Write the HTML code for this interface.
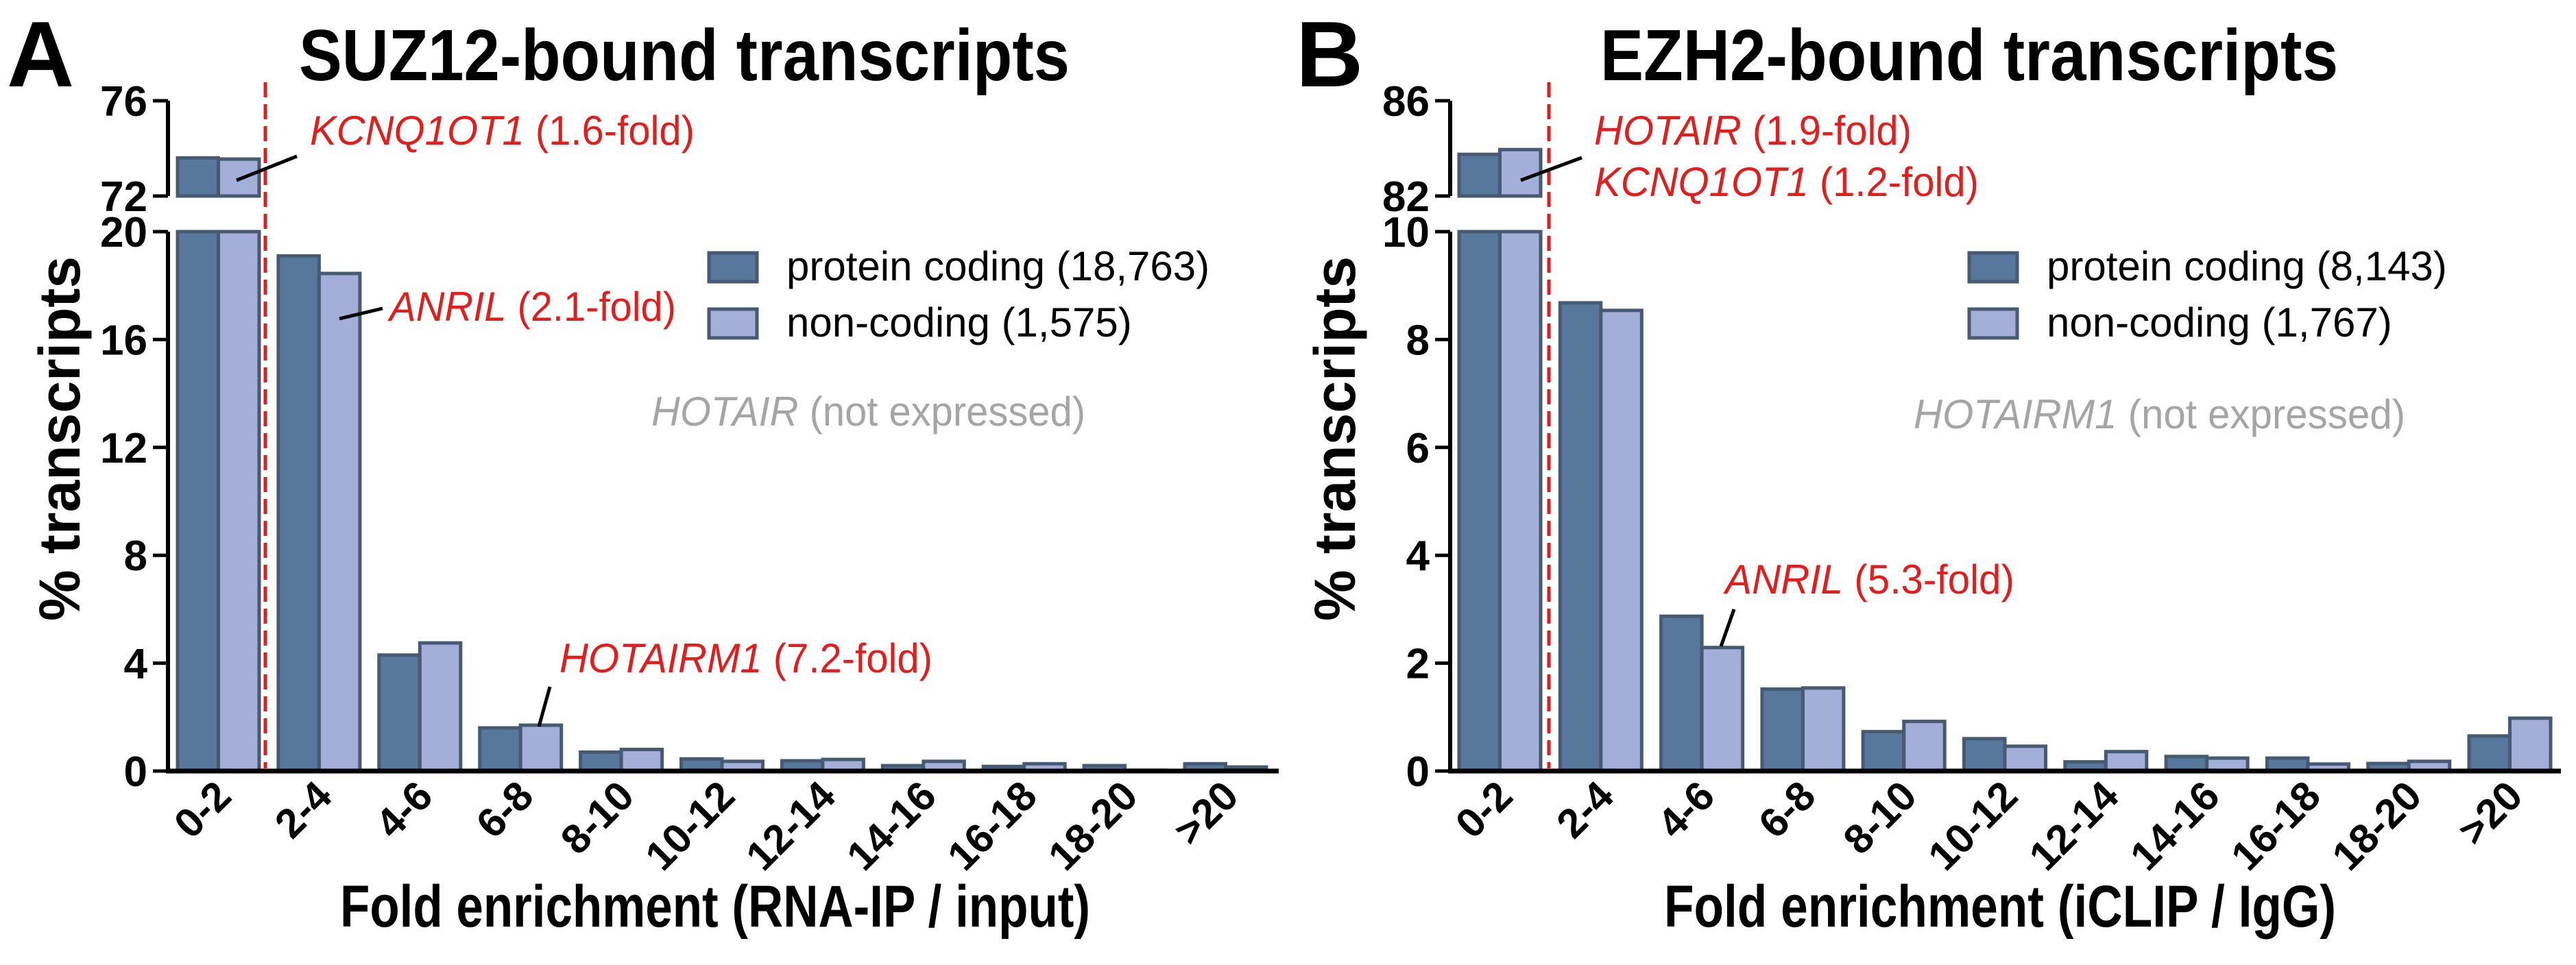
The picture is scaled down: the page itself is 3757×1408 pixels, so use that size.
<!DOCTYPE html>
<html><head><meta charset="utf-8"><style>
html,body{margin:0;padding:0;background:#fff;}
svg{display:block;font-family:"Liberation Sans",Arial,sans-serif;}
</style></head><body>
<svg id="chart" width="3757" height="1408" viewBox="0 0 3757 1408" xmlns="http://www.w3.org/2000/svg">
<g id="panelA"></g>
<g id="panelB"></g>
</svg>
<script>
const categories = ["0-2","2-4","4-6","6-8","8-10","10-12","12-14","14-16","16-18","18-20",">20"];
const suzCoding = [73.6,19.1,4.3,1.6,0.7,0.45,0.38,0.2,0.17,0.2,0.27];
const suzNoncoding = [73.55,18.45,4.75,1.7,0.8,0.36,0.43,0.36,0.27,0.03,0.15];
const ezhCoding = [83.75,8.68,2.87,1.52,0.73,0.6,0.17,0.27,0.24,0.14,0.65];
const ezhNoncoding = [83.95,8.54,2.29,1.54,0.92,0.46,0.36,0.24,0.13,0.18,0.98];
const suzLowerTicks = [0,4,8,12,16,20];
const suzUpperTicks = [72,76];
const ezhLowerTicks = [0,2,4,6,8,10];
const ezhUpperTicks = [82,86];

const NS="http://www.w3.org/2000/svg";
function mk(parent,tag,attrs,text){
  const e=document.createElementNS(NS,tag);
  for(const k in attrs) e.setAttribute(k,attrs[k]);
  if(text!==undefined) e.textContent=text;
  parent.appendChild(e); return e;
}
const DARK="#57789c", LIGHT="#a3afd9", EDGE="#465a72", RED="#e01e1e", GRAY="#a5a5a5";

function drawPanel(g, cfg){
  const ox=cfg.axisX, base=1125, lowTop=338, upBot=286, upTop=147;
  const lowMax=cfg.lowerTicks[cfg.lowerTicks.length-1];
  const upMin=cfg.upperTicks[0], upMax=cfg.upperTicks[cfg.upperTicks.length-1];
  const yLow=v=>base-(v/lowMax)*(base-lowTop);
  const yUp=v=>upBot-(v-upMin)/(upMax-upMin)*(upBot-upTop);
  const xBar=i=>cfg.firstBar+i*cfg.pitch;
  const bw=59.5;
  const series=[[cfg.coding,DARK,'coding'],[cfg.noncoding,LIGHT,'noncoding']];
  series.forEach(([vals,col,nm],s)=>{
    vals.forEach((v,i)=>{
      const x=xBar(i)+s*bw;
      if(v>lowMax){
        const r1=mk(g,'rect',{x:x,y:lowTop,width:bw,height:base-lowTop,fill:col,stroke:EDGE,'stroke-width':5});
        
        
        const r2=mk(g,'rect',{x:x,y:yUp(v),width:bw,height:upBot-yUp(v),fill:col,stroke:EDGE,'stroke-width':5});
        
        
      } else {
        const r=mk(g,'rect',{x:x,y:yLow(v),width:bw,height:base-yLow(v),fill:col,stroke:EDGE,'stroke-width':5});
        
        
      }
    });
  });
  const gap=mk(g,'rect',{x:ox-30,y:upBot+3,width:cfg.dashX-ox+20,height:lowTop-upBot-6,fill:'#fff'});
  
  
  const ya=mk(g,'path',{d:`M${ox},${upTop} V${upBot} M${ox},${lowTop} V${base}`,stroke:'#000','stroke-width':6,fill:'none'});
  
  
  const xa=mk(g,'line',{x1:ox-3,y1:base,x2:cfg.axisEnd,y2:base,stroke:'#000','stroke-width':7});
  
  
  cfg.lowerTicks.forEach(t=>{
    const y=yLow(t);
    mk(g,'line',{x1:ox-22,y1:y,x2:ox,y2:y,stroke:'#000','stroke-width':5});
    const tl=mk(g,'text',{x:ox-30,y:y+22,'text-anchor':'end','font-size':62,'font-weight':'bold'},String(t));
    
    
  });
  cfg.upperTicks.forEach(t=>{
    const y=yUp(t);
    mk(g,'line',{x1:ox-22,y1:y,x2:ox,y2:y,stroke:'#000','stroke-width':5});
    const tl=mk(g,'text',{x:ox-30,y:y+22,'text-anchor':'end','font-size':62,'font-weight':'bold'},String(t));
    
    
  });
  categories.forEach((c,i)=>{
    const cx=xBar(i)+bw+22, cy=1165;
    const t=mk(g,'text',{x:cx,y:cy,'text-anchor':'end','font-size':60,'font-weight':'bold',transform:`rotate(-45 ${cx} ${cy})`},c);
    
    
  });
  const dl=mk(g,'line',{x1:cfg.dashX,y1:120,x2:cfg.dashX,y2:base-4,stroke:RED,'stroke-width':5,'stroke-dasharray':'22 10'});
  
  
}

const A=document.getElementById('panelA'), B=document.getElementById('panelB');
drawPanel(A,{axisX:245,firstBar:259,pitch:146.9,axisEnd:1865,dashX:387,coding:suzCoding,noncoding:suzNoncoding,lowerTicks:suzLowerTicks,upperTicks:suzUpperTicks});
drawPanel(B,{axisX:2115,firstBar:2128,pitch:147.3,axisEnd:3735,dashX:2259,coding:ezhCoding,noncoding:ezhNoncoding,lowerTicks:ezhLowerTicks,upperTicks:ezhUpperTicks});

function txt(g,name,attrs,content){
  const t=mk(g,'text',attrs);
  t.innerHTML=content;
  
  
  return t;
}
function ln(g,name,x1,y1,x2,y2){
  const l=mk(g,'line',{x1:x1,y1:y1,x2:x2,y2:y2,stroke:'#000','stroke-width':5});
  
  
}
function legend(g,x,tx,items){
  items.forEach(([col,label,y],k)=>{
    const r=mk(g,'rect',{x:x,y:y,width:70,height:42,fill:col,stroke:EDGE,'stroke-width':5});
    
    
    txt(g,'legend-label-'+k,{x:tx,y:y+40,'font-size':60},label);
  });
}
txt(A,'panel-label-a',{x:10,y:126,'font-size':136,'font-weight':'bold'},'A');
txt(A,'chart-title',{x:436,y:117,'font-size':106,'font-weight':'bold',textLength:1124,lengthAdjust:'spacingAndGlyphs'},'SUZ12-bound transcripts');
txt(A,'y-axis-title',{x:0,y:0,'font-size':84,'font-weight':'bold','text-anchor':'middle',transform:'translate(116 640) rotate(-90)'},'% transcripts');
txt(A,'x-axis-title',{x:496,y:1352,'font-size':86,'font-weight':'bold',textLength:1094,lengthAdjust:'spacingAndGlyphs'},'Fold enrichment (RNA-IP / input)');
legend(A,1034,1147,[[DARK,'protein coding (18,763)',369],[LIGHT,'non-coding (1,575)',451]]);
txt(A,'note-hotair',{x:950,y:621,'font-size':60,fill:GRAY,textLength:633,lengthAdjust:'spacingAndGlyphs'},'<tspan font-style="italic">HOTAIR</tspan> (not expressed)');
txt(A,'annot-kcnq1ot1',{x:452,y:211,'font-size':60,fill:RED,textLength:561,lengthAdjust:'spacingAndGlyphs'},'<tspan font-style="italic">KCNQ1OT1</tspan> (1.6-fold)');
txt(A,'annot-anril',{x:568,y:468,'font-size':60,fill:RED,textLength:418,lengthAdjust:'spacingAndGlyphs'},'<tspan font-style="italic">ANRIL</tspan> (2.1-fold)');
txt(A,'annot-hotairm1',{x:816,y:981,'font-size':60,fill:RED,textLength:544,lengthAdjust:'spacingAndGlyphs'},'<tspan font-style="italic">HOTAIRM1</tspan> (7.2-fold)');
ln(A,'leader-kcnq1ot1',345,263,433,228);
ln(A,'leader-anril',495,465,558,450);
ln(A,'leader-hotairm1',786,1060,802,1002);
txt(B,'panel-label-b',{x:1890,y:126,'font-size':136,'font-weight':'bold'},'B');
txt(B,'chart-title',{x:2334,y:117,'font-size':106,'font-weight':'bold',textLength:1076,lengthAdjust:'spacingAndGlyphs'},'EZH2-bound transcripts');
txt(B,'y-axis-title',{x:0,y:0,'font-size':84,'font-weight':'bold','text-anchor':'middle',transform:'translate(1976 640) rotate(-90)'},'% transcripts');
txt(B,'x-axis-title',{x:2427,y:1352,'font-size':86,'font-weight':'bold',textLength:980,lengthAdjust:'spacingAndGlyphs'},'Fold enrichment (iCLIP / IgG)');
legend(B,2872,2985,[[DARK,'protein coding (8,143)',369],[LIGHT,'non-coding (1,767)',451]]);
txt(B,'note-hotairm1',{x:2791,y:625,'font-size':60,fill:GRAY,textLength:717,lengthAdjust:'spacingAndGlyphs'},'<tspan font-style="italic">HOTAIRM1</tspan> (not expressed)');
txt(B,'annot-hotair',{x:2325,y:211,'font-size':60,fill:RED,textLength:463,lengthAdjust:'spacingAndGlyphs'},'<tspan font-style="italic">HOTAIR</tspan> (1.9-fold)');
txt(B,'annot-kcnq1ot1',{x:2325,y:286,'font-size':60,fill:RED,textLength:561,lengthAdjust:'spacingAndGlyphs'},'<tspan font-style="italic">KCNQ1OT1</tspan> (1.2-fold)');
txt(B,'annot-anril',{x:2516,y:866,'font-size':60,fill:RED,textLength:422,lengthAdjust:'spacingAndGlyphs'},'<tspan font-style="italic">ANRIL</tspan> (5.3-fold)');
ln(B,'leader-kcnq1ot1-hotair',2218,263,2307,230);
ln(B,'leader-anril',2510,943,2529,889);
</script>
</body></html>
